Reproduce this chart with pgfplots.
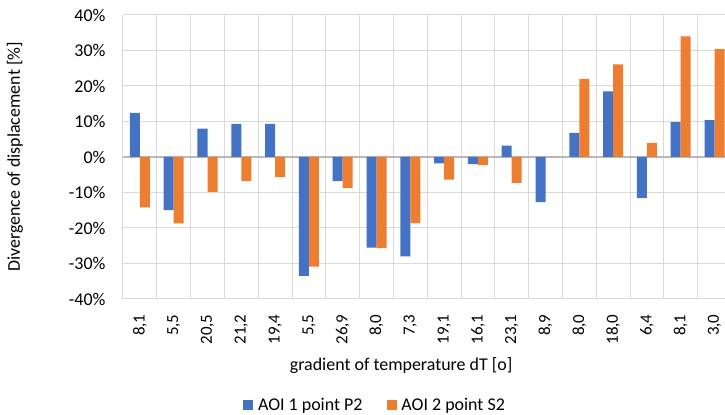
\documentclass[border=0pt]{standalone}
\usepackage{pgfplots}
\pgfplotsset{compat=1.18}
\usepackage{fontspec}
\setmainfont{Carlito}
\definecolor{blueS}{HTML}{4472C4}
\definecolor{orangeS}{HTML}{ED7D31}
\definecolor{gridc}{HTML}{D9D9D9}
\begin{document}
\begin{tikzpicture}
\begin{axis}[
  name=ax, at={(0,0)}, anchor=south west,
  scale only axis, width=602bp, height=284bp,
  xmin=-0.5, xmax=17.31, ymin=-40, ymax=40,
  ybar=0pt, bar width=0.296,
  ytick={-40,-30,...,40},
  yticklabel={\pgfmathprintnumber{\tick}\%},
  /pgf/number format/assume math mode=true,
  xtick={0,...,17},
  xticklabels={{8,1},{5,5},{20,5},{21,2},{19,4},{5,5},{26,9},{8,0},{7,3},{19,1},{16,1},{23,1},{8,9},{8,0},{18,0},{6,4},{8,1},{3,0}},
  x tick label style={rotate=90, anchor=east, font=\fontsize{17}{17}\selectfont},
  y tick label style={font=\fontsize{18}{18}\selectfont},
  xticklabel shift=12bp, yticklabel shift=14bp,
  major tick length=0pt, minor tick length=0pt,
  minor xtick={-0.5,0.5,1.5,2.5,3.5,4.5,5.5,6.5,7.5,8.5,9.5,10.5,11.5,12.5,13.5,14.5,15.5,16.5},
  xminorgrids, ymajorgrids,
  grid style={gridc, line width=1pt},
  minor grid style={gridc, line width=1pt},
  axis line style={draw=none},
  extra y ticks={0}, extra y tick labels={},
  extra y tick style={grid style={draw=gridc!85!black, line width=1.2pt}},
  xlabel={gradient of temperature dT [o]},
  xlabel style={at={(axis description cs:0.462,-0.236)}, anchor=center, font=\fontsize{18}{18}\selectfont},
  ylabel={Divergence of displacement [\%]},
  ylabel style={at={(axis description cs:-0.1794,0.5)}, anchor=center, font=\fontsize{18}{18}\selectfont},
  legend columns=2,
  legend style={at={(axis description cs:0.4186,-0.373)}, anchor=center, draw=none, fill=none,
    font=\fontsize{18}{18}\selectfont,
    /tikz/every even column/.append style={column sep=22bp}},
  legend image code/.code={\fill[#1] (0bp,-5bp) rectangle (10bp,5bp); \path (13bp,0bp);},
]
\addplot[fill=blueS, draw=none] coordinates {
(0,12.4) (1,-15.0) (2,8.0) (3,9.3) (4,9.3) (5,-33.5) (6,-6.8) (7,-25.5) (8,-28.0)
(9,-1.8) (10,-2.0) (11,3.2) (12,-12.7) (13,6.8) (14,18.5) (15,-11.6) (16,9.8) (17,10.4)};
\addlegendentry{AOI 1 point P2}
\addplot[fill=orangeS, draw=none] coordinates {
(0,-14.2) (1,-18.7) (2,-9.8) (3,-6.8) (4,-5.7) (5,-30.9) (6,-8.7) (7,-25.7) (8,-18.6)
(9,-6.4) (10,-2.3) (11,-7.3) (12,0) (13,22.0) (14,26.1) (15,4.0) (16,34.0) (17,30.4)};
\addlegendentry{AOI 2 point S2}
\end{axis}
\pgfresetboundingbox
\path[use as bounding box] ([xshift=-123bp,yshift=-116bp]ax.south west) rectangle ([yshift=15bp]ax.north east);
\end{tikzpicture}
\end{document}
